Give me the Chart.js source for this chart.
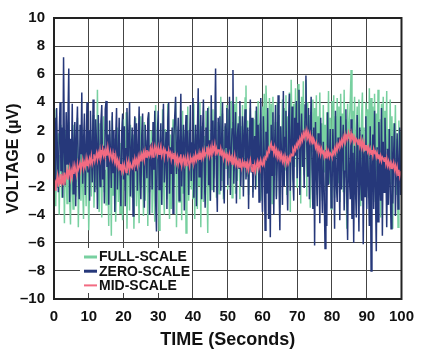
<!DOCTYPE html>
<html>
<head>
<meta charset="utf-8">
<script src="https://cdn.jsdelivr.net/npm/chart.js@4.4.0/dist/chart.umd.min.js"></script>
<style>
html, body { margin: 0; padding: 0; background: #fff; }
#wrap { width: 423px; height: 352px; }
</style>
</head>
<body>
<div id="wrap"><canvas id="noise" width="423" height="352"></canvas></div>
<script>
// seconds between samples
const sampleStep = 0.25;

const seriesNames = ["FULL-SCALE", "ZERO-SCALE", "MID-SCALE"];

const fullScale = [
    -1.2, 3.5, -3.4, 0.6, -2.1, 1.8, -4.0, 0.2, 2.4, -2.8,
    -0.5, 1.5, -4.6, 2.0, -1.3, -3.2, 0.9, 2.6, -2.5, -4.7,
    1.2, -1.9, -3.6, 2.4, -0.4, -2.7, 1.5, 2.9, -4.9, -1.1,
    0.8, -3.0, 2.2, -2.0, -4.3, 1.5, -0.6, -3.4, 2.0, 0.3,
    -5.1, -1.5, 2.0, -2.7, 0.5, 3.1, -3.5, -0.9, 1.4, -2.2,
    4.9, -1.9, -3.8, 2.5, -0.2, -4.2, 1.0, 3.0, -2.4, -0.8,
    -3.3, 2.7, -1.2, -4.8, 1.8, 0.1, -5.5, 3.0, -2.6, -0.5,
    1.4, -4.5, -1.7, 2.2, -3.1, 0.3, -3.9, 1.1, -2.2, -4.4,
    2.8, -1.0, -2.3, 3.3, -5.0, 0.0, 0.9, -3.7, 2.4, -1.4,
    -2.8, 1.7, -5.0, -0.7, 2.9, -3.4, 0.6, -1.9, -4.6, 3.0,
    -2.1, 1.9, -0.4, -4.1, 2.6, -3.0, 0.1, 1.3, -4.8, 3.2,
    -2.4, -0.3, 2.0, -3.9, 1.5, -1.5, -4.5, 3.8, -2.2, 0.5,
    2.4, -5.1, -0.8, 1.2, -3.3, 3.5, -1.4, -4.0, 2.1, -0.2,
    -2.9, 3.9, -1.0, -4.3, 1.7, -3.6, 0.4, 2.8, -1.9, -0.6,
    4.0, -4.9, 0.2, 2.3, -3.1, -1.2, 1.6, -4.4, 3.4, -2.5,
    0.7, 2.0, -5.3, -0.6, 3.7, -3.0, -1.4, 1.8, -2.2, 0.3,
    -2.9, 3.9, -4.3, 0.5, 1.7, -3.6, 2.8, -1.9, 4.0, -4.9,
    2.3, -0.8, -3.1, 1.6, -2.5, 3.4, -1.2, -5.3, 3.7, -0.4,
    -3.0, 1.8, -2.2, 3.5, -1.4, 0.6, 4.1, -2.8, -0.2, 2.6,
    -2.5, 0.9, 4.4, -1.6, 3.2, -2.9, 1.3, 2.3, -0.7, 3.8,
    -2.2, 3.5, -1.4, 0.8, 4.1, -2.8, 2.6, -0.9, 3.9, -2.5,
    4.4, -1.6, 0.5, 3.0, -2.9, 2.3, -0.7, 3.8, -2.2, 1.2,
    4.3, 5.2, -1.3, 2.7, -2.6, 0.4, 3.6, -0.9, 2.0, -2.4,
    2.8, -0.5, 3.4, -2.0, 1.1, 4.1, -1.7, 2.5, -3.0, 0.6,
    3.7, -0.8, 4.6, -1.5, 5.2, 3.3, -2.1, 0.9, 4.3, -0.6,
    3.9, -3.2, 4.4, 0.8, -1.2, 2.6, -2.7, 4.0, -0.3, 3.1,
    -3.5, 2.2, 0.5, 4.2, -1.9, 3.6, -0.8, 4.5, -2.6, 3.0,
    0.2, 4.7, -3.8, 5.6, 2.0, -1.5, 3.9, -0.6, 5.0, 1.3,
    -2.1, 5.3, 0.8, 3.9, -3.2, 4.4, -0.6, 5.5, -1.2, 2.6,
    5.6, -2.7, 4.0, -0.3, 3.1, -3.5, 2.2, 0.5, 4.2, -1.9,
    3.6, -0.8, 4.5, -2.6, 3.0, 0.2, 4.7, -1.4, 2.5, -3.0,
    3.8, -1.0, 2.4, -2.3, 3.3, 0.4, 4.8, -1.8, 2.9, -3.6,
    4.1, -0.5, 4.5, -2.8, 3.0, 0.1, 4.3, -1.7, 3.7, -3.1,
    4.6, -0.9, 3.2, -2.4, 4.9, -1.3, 2.8, -5.0, 3.9, -0.6,
    2.5, 4.0, 6.3, -2.0, 3.4, -0.4, 4.4, -2.9, 1.8, 3.7,
    -1.6, 4.2, 0.3, -3.4, 2.9, 4.7, -0.8, 2.2, -2.5, 4.0,
    -0.3, 3.5, -2.8, 5.0, 0.1, 4.3, -1.7, 3.7, -3.1, 4.6,
    -0.9, 3.2, -2.4, 4.9, -1.3, 2.8, -4.2, 3.9, -0.6, 4.4,
    -2.0, 3.4, 0.6, 4.8, -3.3, 2.1, -0.5, 4.2, -1.8, 3.0,
    -5.0, 2.5, 0.2, 3.8, -2.6, 1.4, -4.9, 2.7, -0.8, 1.9,
    -0.4
];

const zeroScale = [
    0.8, 2.9, -1.6, 3.6, 0.2, -2.4, 1.7, 4.0, -0.9, 2.2,
    -2.8, 7.2, 0.6, -1.9, 3.3, -0.4, 2.5, 6.4, -3.1, 1.4,
    -1.2, 3.9, -2.5, 0.9, 2.6, -3.4, 1.8, 3.7, -0.7, -2.9,
    2.4, 0.3, 4.7, -1.8, 1.1, 3.2, -2.6, 0.6, 4.0, -1.0,
    2.0, -3.0, 3.4, 0.5, -1.7, 4.2, -0.3, -2.4, 2.8, 1.0,
    -3.6, 3.1, 0.2, -2.0, 2.6, 3.8, -1.5, 0.9, -3.2, 3.5,
    4.1, -0.6, 1.7, -3.3, 2.7, 0.4, -2.1, 3.3, -1.0, 2.0,
    -3.8, 1.4, 3.6, -2.2, 0.1, 2.9, -1.2, -3.4, 1.9, 3.2,
    -1.5, 2.3, -3.4, 0.7, 3.6, -1.2, 1.5, 4.0, -2.7, 0.4,
    2.2, -4.1, 1.1, 3.0, -0.9, 2.5, -2.3, 0.8, 3.7, -1.6,
    -2.9, 1.6, 3.2, -0.5, -3.5, 2.4, 0.6, -1.4, 2.8, 3.3,
    -4.0, 0.9, 1.0, -2.2, 2.6, -0.8, 3.4, -3.0, -5.2, 1.8,
    3.4, -2.2, 0.5, 2.5, -3.3, 1.3, 3.9, -1.7, 0.2, 1.9,
    -3.6, 2.7, 4.0, -2.5, 0.8, -1.1, 2.2, -3.9, 1.6, 3.0,
    4.4, -1.1, 0.3, 2.9, -3.0, 1.2, 4.6, -2.0, 0.7, 2.4,
    -3.7, 1.4, 3.1, -0.4, 2.0, -2.6, 0.9, 3.8, -1.6, 1.1,
    4.3, -2.8, 0.6, 2.4, -3.4, 1.7, 5.0, -1.3, 0.4, 3.1,
    -2.9, 1.9, 4.2, -0.8, -3.5, 2.2, 0.9, 3.6, -1.9, 1.3,
    -3.0, 4.5, 0.2, 2.7, -2.4, 1.8, 6.4, -1.1, -3.8, 2.9,
    0.6, 3.0, -2.3, 1.4, 4.0, -1.7, -3.2, 2.5, 0.8, 3.6,
    -1.9, 1.2, 4.4, -2.6, 0.3, 2.1, 6.3, -1.8, 0.9, 3.3,
    -3.2, 1.5, 2.5, -0.7, 4.1, -2.0, 0.4, 3.0, -2.7, 1.7,
    3.5, -1.5, 0.2, 2.2, -3.6, 1.0, 4.2, -1.0, 2.9, -2.8,
    0.5, 1.6, -2.2, 3.7, -0.6, 2.4, -3.1, 0.8, 4.3, -1.4,
    -3.8, 3.0, 0.4, -5.1, 1.9, -2.5, 3.6, -4.3, 0.6, -5.6,
    2.4, -1.2, 3.3, -4.0, 0.9, 3.8, -2.9, -0.3, 4.5, -1.6,
    -5.1, 2.3, 0.1, -3.3, 4.8, -2.0, 1.5, 3.4, -1.1, -3.7,
    2.6, 4.6, -2.3, 0.7, 3.7, -1.5, -3.0, 2.9, 0.2, 4.1,
    -1.4, 2.5, 4.9, -2.6, 1.3, 3.2, -0.6, 2.0, -2.1, 3.8,
    5.9, 0.9, -1.3, 3.6, -2.9, 1.7, 4.4, -0.8, -3.6, 2.2,
    -6.2, 2.6, -0.8, -3.4, 1.8, 0.3, -4.6, 2.9, -1.5, -3.9,
    1.2, -2.2, -6.4, 0.6, -4.8, 3.3, -1.9, -0.4, 2.1, -3.5,
    -2.5, 2.1, -0.6, -5.0, 3.4, -1.8, -3.1, 1.5, 0.2, -4.4,
    3.0, -2.2, 0.8, 2.4, -3.7, -0.9, 3.5, -2.6, -5.8, 1.4,
    -1.1, -2.9, 2.8, -4.3, 0.4, -6.0, 0.9, -2.0, -4.2, 3.1,
    -0.7, -5.2, 2.2, -1.6, -3.0, 1.7, -6.1, 0.5, -2.7, 3.0,
    -3.6, 0.8, -1.5, -4.8, 2.3, -8.0, -0.5, 1.7, -3.6, 3.4,
    -2.1, -6.6, 0.8, -4.5, 2.6, -1.2, -3.0, 3.6, -5.5, 1.2,
    -2.4, 2.9, -0.3, -4.9, 0.7, -3.3, 2.1, -1.8, -5.0, 1.6,
    -3.2, 0.4, 2.5, -4.1, -1.0, 1.8, -3.6, -0.2, 2.2, -2.6,
    -1.0
];

const midScale = [
    -1.9, -1.5, -2.3, -1.6, -1.2, -2.0, -1.4, -1.8, -1.1, -1.7,
    -1.3, -1.9, -1.0, -1.6, -1.2, -0.8, -1.5, -1.1, -0.7, -1.4,
    -0.9, -1.3, -0.6, -1.1, -0.5, -0.9, -1.2, -0.4, -0.8, -0.6,
    -0.3, -0.8, -0.5, -0.1, -0.7, -0.3, -0.6, 0.0, -0.5, -0.2,
    -0.5, 0.0, -0.3, 0.2, -0.4, -0.1, 0.3, -0.2, 0.1, 0.4,
    -0.1, 0.4, 0.1, 0.6, 0.0, 0.3, 0.7, 0.2, 0.5, 0.1,
    0.6, 0.2, 0.8, 0.3, 0.0, 0.5, 0.2, -0.1, 0.4, 0.0,
    -0.3, 0.2, -0.4, -0.1, -0.6, -0.2, -0.8, -0.4, -0.9, -0.5,
    -0.9, -0.4, -0.7, -1.0, -0.3, -0.6, -0.2, -0.8, -0.4, -0.6,
    -0.7, -0.2, -0.5, 0.0, -0.4, -0.1, -0.5, 0.1, -0.3, 0.2,
    -0.2, 0.3, 0.0, 0.4, -0.1, 0.5, 0.1, 0.6, 0.2, 0.4,
    0.2, 0.7, 0.3, 0.8, 0.1, 0.6, 0.9, 0.4, 0.7, 0.3,
    0.8, 0.3, 0.6, 0.9, 0.2, 0.5, 0.7, 0.1, 0.6, 0.4,
    0.5, 0.1, 0.6, 0.2, 0.4, -0.1, 0.3, 0.0, 0.4, -0.2,
    0.2, -0.3, 0.1, -0.4, 0.0, -0.2, 0.3, -0.5, -0.1, 0.1,
    -0.4, 0.0, -0.5, -0.1, 0.2, -0.3, -0.6, 0.1, -0.2, 0.0,
    -0.3, 0.1, -0.2, 0.3, -0.1, 0.2, 0.0, 0.4, -0.1, 0.3,
    0.0, 0.5, 0.1, 0.6, 0.2, 0.4, 0.8, 0.3, 0.7, 0.2,
    0.7, 0.3, 0.9, 0.4, 0.6, 1.0, 0.2, 0.7, 0.4, 0.6,
    0.6, 0.2, 0.7, 0.3, 0.5, 0.0, 0.4, 0.1, 0.3, -0.1,
    0.2, -0.2, 0.3, -0.1, 0.1, -0.4, 0.0, -0.3, 0.2, -0.4,
    -0.1, -0.5, -0.2, -0.6, 0.0, -0.4, -0.7, -0.2, -0.5, -0.3,
    -0.6, -0.2, -0.7, -0.3, -0.8, -0.4, -0.1, -0.6, -0.9, -0.4,
    -0.8, -0.4, -0.9, -0.5, -0.2, -0.7, -0.3, -0.6, -0.1, -0.4,
    -0.5, -0.1, -0.4, 0.1, 0.0, 0.4, 0.2, 0.7, 0.5, 0.9,
    1.1, 0.6, 0.9, 0.4, 0.8, 0.3, 0.6, 0.1, 0.5, 0.2,
    0.4, 0.0, 0.3, -0.2, 0.1, -0.3, 0.2, -0.1, -0.4, 0.0,
    -0.3, 0.1, -0.1, 0.3, 0.2, 0.6, 0.4, 0.8, 0.6, 1.0,
    0.8, 1.2, 1.0, 1.4, 1.1, 1.6, 1.3, 1.8, 1.5, 1.9,
    1.6, 2.0, 1.5, 1.8, 1.3, 1.7, 1.2, 1.5, 1.0, 1.4,
    1.2, 0.8, 1.1, 0.6, 0.9, 0.5, 0.8, 0.3, 0.7, 0.4,
    0.5, 0.1, 0.4, 0.0, 0.6, 0.2, 0.5, 0.1, 0.4, 0.3,
    0.1, 0.5, 0.3, 0.7, 0.4, 0.9, 0.6, 1.0, 0.8, 1.2,
    0.9, 1.3, 1.0, 1.5, 1.2, 1.7, 1.3, 1.6, 1.4, 1.9,
    1.7, 1.3, 1.8, 1.4, 1.6, 1.2, 1.5, 1.1, 1.4, 1.3,
    1.0, 1.4, 0.9, 1.3, 0.8, 1.2, 0.7, 1.1, 0.6, 0.9,
    0.9, 0.5, 0.8, 0.4, 0.7, 0.3, 0.6, 0.2, 0.7, 0.4,
    0.5, 0.1, 0.4, 0.0, 0.3, -0.1, 0.2, -0.2, 0.1, 0.0,
    -0.2, 0.1, -0.4, 0.0, -0.5, -0.2, -0.6, -0.3, -0.7, -0.4,
    -0.6, -0.3, -0.8, -0.5, -1.0, -0.6, -1.2, -0.8, -1.3, -1.0,
    -1.1
];

const green = "#78d0a0";
const navy = "#26387a";
const pink = "#f26b82";
const labelFont = "'Liberation Sans', Arial, sans-serif";

function toPoints(values) {
    return values.map(function(v, i) {
        return { x: i * sampleStep, y: v };
    });
}

function minusLabel(value) {
    return value < 0 ? "\u2013" + Math.abs(value) : String(value);
}

// white legend box in the lower left of the plot
const legendBox = {
    id: "legendBox",
    afterDraw(chart) {
        const ctx = chart.ctx;
        const area = chart.chartArea;
        const left = area.left + 26;
        const top = area.bottom - 51;
        const colors = [green, navy, pink];

        ctx.save();
        ctx.fillStyle = "#fff";
        ctx.fillRect(left, top, 112, 45);
        ctx.font = "bold 14px " + labelFont;
        ctx.textBaseline = "middle";
        for (let i = 0; i < seriesNames.length; ++i) {
            const y = top + 9 + i * 14.2;
            ctx.strokeStyle = colors[i];
            ctx.lineWidth = i === 2 ? 2 : 3;
            ctx.beginPath();
            ctx.moveTo(left + 4, y);
            ctx.lineTo(left + 17, y);
            ctx.stroke();
            ctx.fillStyle = "#111";
            ctx.fillText(seriesNames[i], left + 19, y + 0.5);
        }
        ctx.restore();
    }
};

// heavier frame round the plot
const plotFrame = {
    id: "plotFrame",
    afterDatasetsDraw(chart) {
        const ctx = chart.ctx;
        const a = chart.chartArea;
        ctx.save();
        ctx.strokeStyle = "#222";
        ctx.lineWidth = 2;
        ctx.strokeRect(a.left, a.top, a.right - a.left, a.bottom - a.top);
        ctx.restore();
    }
};

const canvas = document.getElementById("noise");
const chart = new Chart(canvas.getContext("2d"), {
    type: "line",
    data: {
        datasets: [{
            label: seriesNames[0],
            data: toPoints(fullScale),
            borderColor: green,
            borderWidth: 1.5,
            order: 3
        }, {
            label: seriesNames[1],
            data: toPoints(zeroScale),
            borderColor: navy,
            borderWidth: 1.5,
            order: 2
        }, {
            label: seriesNames[2],
            data: toPoints(midScale),
            borderColor: pink,
            borderWidth: 1.5,
            order: 1
        }]
    },
    options: {
        responsive: false,
        animation: false,
        events: [],
        elements: {
            point: { radius: 0 },
            line: { tension: 0 }
        },
        layout: {
            padding: { top: 15, right: 16, left: 0, bottom: 0 }
        },
        plugins: {
            legend: { display: false },
            tooltip: { enabled: false }
        },
        scales: {
            x: {
                type: "linear",
                min: 0,
                max: 100,
                afterFit: function(scale) { scale.height = 53; },
                grid: { color: "#444", lineWidth: 1, drawTicks: false },
                border: { display: false },
                ticks: {
                    stepSize: 10,
                    padding: 9,
                    color: "#111",
                    font: { family: labelFont, size: 15, weight: "bold" },
                    maxRotation: 0
                },
                title: {
                    display: true,
                    text: "TIME (Seconds)",
                    color: "#111",
                    padding: { top: 0, bottom: 1 },
                    font: { family: labelFont, size: 18, weight: "bold" }
                }
            },
            y: {
                min: -10,
                max: 10,
                afterFit: function(scale) { scale.width = 54; },
                grid: { color: "#444", lineWidth: 1, drawTicks: false },
                border: { display: false },
                ticks: {
                    stepSize: 2,
                    padding: 9,
                    color: "#111",
                    font: { family: labelFont, size: 15, weight: "bold" },
                    callback: minusLabel
                },
                title: {
                    display: true,
                    text: "VOLTAGE (\u00b5V)",
                    color: "#111",
                    padding: { top: 4, bottom: 0 },
                    font: { family: labelFont, size: 16, weight: "bold" }
                }
            }
        }
    },
    plugins: [plotFrame, legendBox]
});
</script>
</body>
</html>
